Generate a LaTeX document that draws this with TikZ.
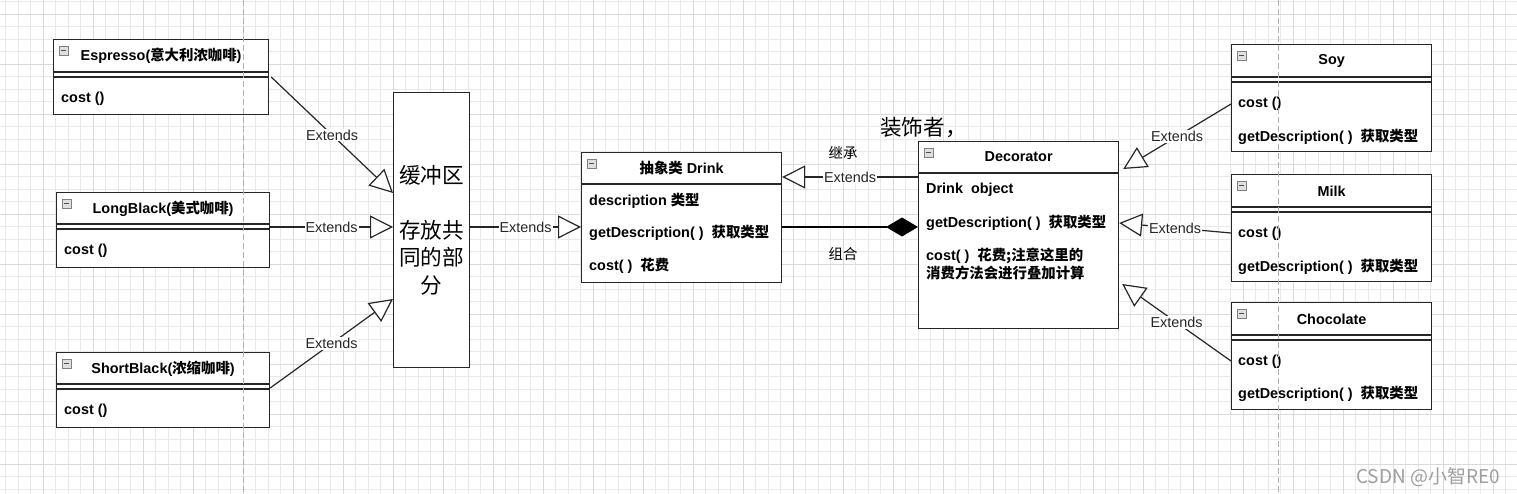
\documentclass[tikz,border=0pt]{standalone}
\usepackage{fontspec}
\setmainfont{Liberation Sans}
\newfontfamily\cjk{Noto Sans CJK SC}
\usepackage{tikz}
\usetikzlibrary{arrows.meta, calc}
\newcommand{\zh}[1]{{\cjk #1}}
\definecolor{umlLine}{HTML}{262626}
\definecolor{gridMinor}{HTML}{E9E9E9}
\definecolor{gridMajor}{HTML}{DADADA}
\newcommand{\clsline}[2]{\draw[umlLine, line width=1.2pt] ($(#1.north west)+(0,#2)$) -- ($(#1.north east)+(0,#2)$);}
\newcommand{\fold}[1]{
  \draw[gray, fill=gray!25, line width=0.6pt] ($(#1.north west)+(6,7)$) rectangle ++(9,9);
  \draw[black!70, line width=1.2pt] ($(#1.north west)+(8,11.5)$) -- ++(5,0);}
\tikzset{
  cls/.style={draw=umlLine, line width=1.2pt, fill=white, inner sep=0pt, anchor=north west},
  ttl/.style={font=\fontsize{14.4}{17}\selectfont\bfseries, inner sep=0pt},
  fld/.style={font=\fontsize{14.4}{18}\selectfont\bfseries, inner sep=0pt, anchor=west, align=left},
  lbl/.style={font=\fontsize{14.4}{17}\selectfont, text=umlLine, fill=white, inner sep=1pt},
  note/.style={font=\fontsize{14.4}{17}\selectfont\cjk, inner sep=0pt},
  big/.style={font=\fontsize{21.6}{27.5}\selectfont\cjk},
  ext/.style={draw=umlLine, line width=1.2pt, -{Triangle[length=23pt, width=23pt, fill=white]}},
}

\begin{document}
\begin{tikzpicture}[x=1pt, y=-1pt]
  \useasboundingbox[fill=white] (0,0) rectangle (1517,494);
  \foreach \x in {0,...,121} \draw[gridMinor, line width=0.8pt] ({5.5+12.5*\x},0) -- ++(0,494);
  \foreach \y in {0,...,39} \draw[gridMinor, line width=0.8pt] (0,{1.5+12.5*\y}) -- ++(1517,0);
  \foreach \x in {0,...,30} \draw[gridMajor, line width=0.8pt] ({43+50*\x},0) -- ++(0,494);
  \foreach \y in {0,...,9} \draw[gridMajor, line width=0.8pt] (0,{14+50*\y}) -- ++(1517,0);

  % coffee classes
  \node[cls, minimum width=215pt, minimum height=75pt] (espresso) at (53,39) {};
  \clsline{espresso}{33} \clsline{espresso}{38} \fold{espresso}
  \node[ttl] (espresso-t) at ($(espresso.north)+(0,16.5)$) {Espresso(\zh{意大利浓咖啡})};
  \node[fld] (espresso-c) at ($(espresso.north west)+(8,60)$) {cost ()};

  \node[cls, minimum width=213pt, minimum height=75pt] (longblack) at (56,192) {};
  \clsline{longblack}{32} \clsline{longblack}{37} \fold{longblack}
  \node[ttl] (longblack-t) at ($(longblack.north)+(0,16.5)$) {LongBlack(\zh{美式咖啡})};
  \node[fld] (longblack-c) at ($(longblack.north west)+(8,59)$) {cost ()};

  \node[cls, minimum width=213pt, minimum height=75pt] (shortblack) at (56,352) {};
  \clsline{shortblack}{32} \clsline{shortblack}{37} \fold{shortblack}
  \node[ttl] (shortblack-t) at ($(shortblack.north)+(0,16.5)$) {ShortBlack(\zh{浓缩咖啡})};
  \node[fld] (shortblack-c) at ($(shortblack.north west)+(8,59)$) {cost ()};

  \node[cls, big, align=center, minimum width=76pt, minimum height=275pt] (buffer) at (393,92)
    {缓冲区\\ \\ 存放共\\ 同的部\\ 分};

  % component and decorator
  \node[cls, minimum width=200pt, minimum height=130pt] (drink) at (581,152) {};
  \clsline{drink}{32} \fold{drink}
  \node[ttl] (drink-t) at ($(drink.north)+(0,16)$) {\zh{抽象类} Drink};
  \node[fld] (drink-d) at ($(drink.north west)+(8,49)$) {description \zh{类型}};
  \node[fld] (drink-g) at ($(drink.north west)+(8,81)$) {getDescription( )~ \zh{获取类型}};
  \node[fld] (drink-c) at ($(drink.north west)+(8,114)$) {cost( )~ \zh{花费}};

  \node[cls, minimum width=200pt, minimum height=187pt] (decorator) at (918,141) {};
  \clsline{decorator}{32} \fold{decorator}
  \node[ttl] (decorator-t) at ($(decorator.north)+(0,16)$) {Decorator};
  \node[fld] (decorator-o) at ($(decorator.north west)+(8,49)$) {Drink~ object};
  \node[fld] (decorator-g) at ($(decorator.north west)+(8,82)$) {getDescription( )~ \zh{获取类型}};
  \node[fld] (decorator-c) at ($(decorator.north west)+(8,123)$) {cost( )~ \zh{花费;注意这里的}\\ \zh{消费方法会进行叠加计算}};
  \node[big, anchor=west, inner sep=0pt] (decor-note) at (880,128) {装饰者，};

  % condiments
  \node[cls, minimum width=200pt, minimum height=107pt] (soy) at (1231,44) {};
  \clsline{soy}{33} \clsline{soy}{38} \fold{soy}
  \node[ttl] (soy-t) at ($(soy.north)+(0,17)$) {Soy};
  \node[fld] (soy-c) at ($(soy.north west)+(7,60)$) {cost ()};
  \node[fld] (soy-g) at ($(soy.north west)+(7,93)$) {getDescription( )~ \zh{获取类型}};

  \node[cls, minimum width=200pt, minimum height=107pt] (milk) at (1231,174) {};
  \clsline{milk}{33} \clsline{milk}{38} \fold{milk}
  \node[ttl] (milk-t) at ($(milk.north)+(0,17)$) {Milk};
  \node[fld] (milk-c) at ($(milk.north west)+(7,60)$) {cost ()};
  \node[fld] (milk-g) at ($(milk.north west)+(7,93)$) {getDescription( )~ \zh{获取类型}};

  \node[cls, minimum width=200pt, minimum height=107pt] (chocolate) at (1231,302) {};
  \clsline{chocolate}{33} \clsline{chocolate}{38} \fold{chocolate}
  \node[ttl] (chocolate-t) at ($(chocolate.north)+(0,17)$) {Chocolate};
  \node[fld] (chocolate-c) at ($(chocolate.north west)+(7,60)$) {cost ()};
  \node[fld] (chocolate-g) at ($(chocolate.north west)+(7,92)$) {getDescription( )~ \zh{获取类型}};

  % relations
  \draw[ext] ($(espresso.north east)+(2,38)$) -- node[lbl] (e1) {Extends} ($(buffer.north west)+(0,101)$);
  \draw[ext] ($(longblack.north east)+(0,35)$) -- node[lbl] (e2) {Extends} ($(buffer.north west)+(0,135)$);
  \draw[ext] ($(shortblack.north east)+(0,36)$) -- node[lbl] (e3) {Extends} ($(buffer.north west)+(0,207)$);
  \draw[ext] ($(buffer.north east)+(0,135)$) -- node[lbl] (e4) {Extends} ($(drink.north west)+(0,75)$);
  \draw[ext] ($(decorator.north west)+(0,36)$) -- node[lbl] (e5) {Extends} ($(drink.north east)+(0,25)$);
  \draw[black, line width=1.3pt, -{Diamond[length=32pt, width=19pt]}] ($(drink.north east)+(0,75)$) -- ($(decorator.north west)+(0,86)$);
  \node[note] (inherit) at (843,153) {继承};
  \node[note] (compose) at (843,254) {组合};
  \draw[ext] ($(soy.north west)+(0,60)$) -- node[lbl] (e6) {Extends} ($(decorator.north east)+(4,28)$);
  \draw[ext] ($(milk.north west)+(0,59)$) -- node[lbl] (e7) {Extends} ($(decorator.north east)+(0,82)$);
  \draw[ext] ($(chocolate.north west)+(0,59)$) -- node[lbl] (e8) {Extends} ($(decorator.north east)+(3,143)$);

  % page breaks
  \draw[gray!60, line width=0.9pt, dash pattern=on 6pt off 3pt] (243.5,0) -- (243.5,494);
  \draw[gray!60, line width=0.9pt, dash pattern=on 6pt off 3pt] (1278,0) -- (1278,494);

  \node[font=\fontsize{19}{20}\selectfont\cjk, text=gray!75, inner sep=0pt] (mark) at (1428,477) {CSDN @小智RE0};
\end{tikzpicture}
\end{document}
